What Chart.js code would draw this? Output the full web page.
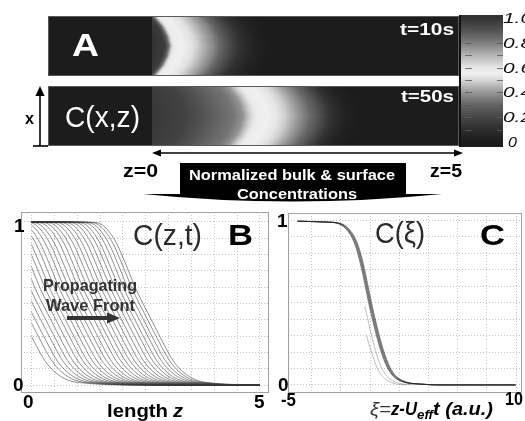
<!DOCTYPE html>
<html>
<head>
<meta charset="utf-8">
<script src="https://cdn.jsdelivr.net/npm/chart.js@4.4.0/dist/chart.umd.min.js"></script>
<style>
  html, body { margin: 0; padding: 0; background: #fff; }
  #wrap { position: relative; width: 525px; height: 421px; overflow: hidden; }
  #wrap canvas { position: absolute; left: 0; top: 0; }
</style>
</head>
<body>
<div id="wrap">
  <canvas id="chartA" width="525" height="421"></canvas>
  <canvas id="chartB" width="525" height="421"></canvas>
  <canvas id="chartC" width="525" height="421"></canvas>
</div>
<script>
// ---- panel A: concentration along z on the channel centre line ----
const stripZ10 = [0, 0.21, 0.27, 0.32, 0.36, 0.55, 0.66, 0.78, 0.99, 1.22, 1.43, 1.67, 1.9, 5];
const stripC10 = [1.0, 0.97, 0.85, 0.65, 0.57, 0.54, 0.52, 0.47, 0.38, 0.24, 0.12, 0.04, 0, 0];
const stripZ50 = [0, 0.54, 0.94, 1.31, 1.48, 1.59, 1.70, 1.87, 2.03, 2.16, 2.40, 2.68, 2.89, 3.13, 3.38, 5];
const stripC50 = [0.98, 0.95, 0.88, 0.82, 0.76, 0.65, 0.57, 0.55, 0.53, 0.49, 0.39, 0.26, 0.13, 0.04, 0, 0];
// how far the front lags behind the centre, across the channel height
const bulgeX = [0, 0.17, 0.33, 0.5, 0.67, 0.83, 1];
const bulgeLag = [0.26, 0.12, 0.04, 0, 0.04, 0.12, 0.26];
// colour bar (grey map)
const cbarValues = [0, 0.1, 0.2, 0.3, 0.4, 0.5, 0.55, 0.6, 0.7, 0.8, 0.9, 1.0];
const cbarGrey = [28, 45, 70, 100, 150, 215, 240, 230, 180, 125, 82, 50];
const cbarTickValues = [1.0, 0.8, 0.6, 0.4, 0.2, 0];
const cbarTickLabels = ['1.0', '0.8', '0.6', '0.4', '0.2', '0'];

// ---- panel B: C(z,t), one profile shape moving along z ----
const bOffset = [-3.0, -1.45, -1.0, -0.8, -0.58, -0.36, -0.14, 0, 0.22, 0.44, 0.66, 0.88, 1.17, 1.61, 2.1, 2.6, 5.5];
const bProfile = [1.0, 1.0, 0.995, 0.96, 0.87, 0.73, 0.58, 0.50, 0.38, 0.26, 0.15, 0.08, 0.03, 0.01, 0.002, 0, 0];
const bFronts = [-0.37, -0.22, -0.10, 0.02, 0.13, 0.24, 0.35, 0.46, 0.56, 0.67, 0.77, 0.88, 0.98, 1.08,
                 1.19, 1.29, 1.39, 1.49, 1.59, 1.69, 1.79, 1.89, 1.99, 2.08, 2.18, 2.27, 2.36, 2.44];
const bTicksX = [0, 0.5, 1, 1.5, 2, 2.5, 3, 3.5, 4, 4.5, 5];
const bTickLabelsX = ['', '0.5', '1', '1.5', '2', '2.5', '3', '3.5', '4', '4.5', ''];
const yTicks = [0, 0.1, 0.2, 0.3, 0.4, 0.5, 0.6, 0.7, 0.8, 0.9, 1];
const yTickLabels = ['', '0.1', '0.2', '0.3', '0.4', '0.5', '0.6', '0.7', '0.8', '0.9', ''];

// ---- panel C: C(xi), curves collapsed on one shape ----
const cXi = [-4.95, -3, -2.07, -1.38, -0.92, -0.57, -0.23, 0, 0.34, 0.69, 1.15, 1.61, 2.3, 3.45, 5, 10];
const cMain = [0.995, 0.99, 0.98, 0.93, 0.85, 0.74, 0.60, 0.50, 0.37, 0.25, 0.13, 0.06, 0.02, 0.005, 0, 0];
const cSpread = [-0.1, -0.05, 0, 0.05, 0.1];
const cEarly1Xi = [-0.36, 0, 0.4, 0.8, 1.3, 2, 3];
const cEarly1 = [0.48, 0.34, 0.2, 0.1, 0.04, 0.01, 0];
const cEarly2Xi = [-0.25, 0.1, 0.5, 1, 1.6, 2.5];
const cEarly2 = [0.30, 0.2, 0.1, 0.04, 0.01, 0];
const cTicksX = [-4, -2, 0, 2, 4, 6, 8, 10];
const cTickLabelsX = ['-4', '-2', '0', '2', '4', '6', '8', ''];

const FONT = '"Liberation Sans", Arial, sans-serif';
Chart.defaults.font.family = FONT;

function interp(xs, ys, x) {
  if (x <= xs[0]) return ys[0];
  for (let i = 1; i < xs.length; i++) {
    if (x <= xs[i]) {
      const t = (x - xs[i - 1]) / (xs[i] - xs[i - 1]);
      return ys[i - 1] + t * (ys[i] - ys[i - 1]);
    }
  }
  return ys[ys.length - 1];
}

// text squeezed/stretched to the width it has in the picture
function txt(ctx, s, x, y, font, color, w) {
  ctx.save();
  ctx.font = font;
  ctx.fillStyle = color;
  ctx.textBaseline = 'alphabetic';
  ctx.textAlign = 'left';
  const m = ctx.measureText(s).width;
  ctx.translate(x, y);
  if (w) ctx.scale(w / m, 1);
  ctx.fillText(s, 0, 0);
  ctx.restore();
}

function flatScale(s) {
  if (s.isHorizontal()) s.height = 0; else s.width = 0;
  s.paddingLeft = s.paddingRight = s.paddingTop = s.paddingBottom = 0;
}

function drawStrip(ctx, xs, ys, zArr, cArr, v0, v1) {
  const left = Math.round(xs.left), right = Math.round(xs.right);
  const top = Math.round(ys.getPixelForValue(v1)), bot = Math.round(ys.getPixelForValue(v0));
  const w = right - left, h = bot - top;
  const off = document.createElement('canvas');
  off.width = w; off.height = h;
  const octx = off.getContext('2d');
  const img = octx.createImageData(w, h);
  for (let r = 0; r < h; r++) {
    const lag = interp(bulgeX, bulgeLag, (r + 0.5) / h);
    for (let c = 0; c < w; c++) {
      const z = xs.getValueForPixel(left + c + 0.5) + lag;
      const g = interp(cbarValues, cbarGrey, interp(zArr, cArr, z));
      const k = (r * w + c) * 4;
      img.data[k] = img.data[k + 1] = img.data[k + 2] = g;
      img.data[k + 3] = 255;
    }
  }
  octx.putImageData(img, 0, 0);
  ctx.drawImage(off, left, top);
}

function arrowLine(ctx, x1, y1, x2, y2, lw, color) {
  ctx.save();
  ctx.strokeStyle = color; ctx.lineWidth = lw;
  ctx.beginPath(); ctx.moveTo(x1, y1); ctx.lineTo(x2, y2); ctx.stroke();
  ctx.restore();
}
function tri(ctx, pts, color) {
  ctx.save(); ctx.fillStyle = color; ctx.beginPath();
  ctx.moveTo(pts[0], pts[1]); ctx.lineTo(pts[2], pts[3]); ctx.lineTo(pts[4], pts[5]);
  ctx.closePath(); ctx.fill(); ctx.restore();
}

// ---------- panel A ----------
const panelA = {
  id: 'panelA',
  afterDraw(chart) {
    const ctx = chart.ctx, xs = chart.scales.x, ys = chart.scales.y, cb = chart.scales.cb;
    // label boxes
    ctx.fillStyle = '#1c1c1c';
    ctx.fillRect(48, 16, 104, 60);
    ctx.fillRect(48, 86, 104, 60);
    drawStrip(ctx, xs, ys, stripZ10, stripC10, 7, 13);
    drawStrip(ctx, xs, ys, stripZ50, stripC50, 0, 6);
    ctx.strokeStyle = '#5a5a5a'; ctx.lineWidth = 1;
    ctx.strokeRect(48.5, 16.5, 410, 59);
    ctx.strokeRect(48.5, 86.5, 410, 59);

    // colour bar
    for (let y = 15; y < 147; y++) {
      let v = cb.getValueForPixel(y + 0.5);
      v = Math.max(0, Math.min(1, v));
      const g = Math.round(interp(cbarValues, cbarGrey, v));
      ctx.fillStyle = `rgb(${g},${g},${g})`;
      ctx.fillRect(461, y, 42, 1);
    }
    ctx.fillStyle = '#111';
    ctx.fillRect(459, 15, 2, 132);
    ctx.strokeStyle = 'rgba(90,90,90,0.8)'; ctx.lineWidth = 1;
    for (let k = 1; k < 10; k++) {
      const py = Math.round(cb.getPixelForValue(k / 10)) + 0.5;
      ctx.beginPath();
      ctx.moveTo(465, py); ctx.lineTo(472, py);
      ctx.moveTo(497, py); ctx.lineTo(503, py);
      ctx.stroke();
    }
    cbarTickValues.forEach((v, i) => {
      const py = cb.getPixelForValue(v) + 5;
      const s = cbarTickLabels[i];
      txt(ctx, s, s.length > 1 ? 503 : 508, py, 'italic 14px ' + FONT, '#111', s.length > 1 ? 29 : 9);
    });

    // texts in the strips
    txt(ctx, 'A', 72, 56, 'bold 32px ' + FONT, '#fff', 27);
    txt(ctx, 'C(x,z)', 65, 127, '30px ' + FONT, '#fff', 75);
    txt(ctx, 't=10s', 400, 35, 'bold 16px ' + FONT, '#fff', 54);
    txt(ctx, 't=50s', 401, 102, 'bold 16px ' + FONT, '#fff', 53);

    // transverse axis x
    arrowLine(ctx, 40, 146, 40, 93, 1.6, '#000');
    tri(ctx, [35.5, 96, 40, 86, 44.5, 96], '#000');
    arrowLine(ctx, 33, 146, 48, 146, 1.6, '#000');
    txt(ctx, 'x', 25, 124, 'bold 17px ' + FONT, '#000', 9);

    // z = 0 ... 5 double arrow
    const z0 = xs.getPixelForValue(0), z5 = xs.getPixelForValue(5);
    arrowLine(ctx, z0 + 6, 153, z5 - 4, 153, 1.6, '#000');
    tri(ctx, [z0, 153, z0 + 9, 149.5, z0 + 9, 156.5], '#000');
    tri(ctx, [z5 + 3, 153, z5 - 6, 149.5, z5 - 6, 156.5], '#000');
    txt(ctx, 'z=0', 123, 177, 'bold 18px ' + FONT, '#000', 35);
    txt(ctx, 'z=5', 430, 177, 'bold 18px ' + FONT, '#000', 32);

    // banner arrow
    ctx.fillStyle = '#000';
    ctx.fillRect(180, 163, 226, 32);
    ctx.beginPath();
    ctx.moveTo(143, 194);
    ctx.lineTo(442, 194);
    ctx.quadraticCurveTo(292, 209, 143, 194);
    ctx.closePath();
    ctx.fill();
    txt(ctx, 'Normalized bulk & surface', 189, 180, 'bold 15px ' + FONT, '#fff', 206);
    txt(ctx, 'Concentrations', 237, 198.5, 'bold 15px ' + FONT, '#fff', 120);
  }
};

new Chart(document.getElementById('chartA'), {
  type: 'scatter',
  data: { datasets: [] },
  options: {
    responsive: false, animation: false, devicePixelRatio: 1,
    layout: { padding: { left: 152, top: 16, right: 525 - 460, bottom: 421 - 146 } },
    plugins: { legend: { display: false }, tooltip: { enabled: false } },
    scales: {
      x: { type: 'linear', min: 0, max: 5, display: false, afterFit: flatScale },
      y: { type: 'linear', min: 0, max: 13, display: false, afterFit: flatScale },
      cb: { type: 'linear', position: 'right', min: -0.032, max: 1.016, display: false, afterFit: flatScale }
    }
  },
  plugins: [panelA]
});

// ---------- shared pieces for B and C ----------
function axisOpts(min, max, ticks, labels, horizontal) {
  return {
    type: 'linear', min: min, max: max,
    afterFit: flatScale,
    afterBuildTicks: s => { s.ticks = ticks.map(v => ({ value: v })); },
    grid: { color: '#c4c4c4', lineWidth: 1, drawTicks: false },
    border: { display: false, dash: [1, 2] },
    ticks: {
      autoSkip: false, maxRotation: 0, padding: horizontal ? 3 : 4,
      font: { size: 5 }, color: '#8c8c8c',
      callback: (v, i) => labels[i]
    }
  };
}

function clipPlugin(lo, hi) {
  return {
    id: 'clipZ',
    beforeDatasetsDraw(chart) {
      const a = chart.chartArea, xs = chart.scales.x, ctx = chart.ctx;
      const x0 = xs.getPixelForValue(lo), x1 = xs.getPixelForValue(hi);
      ctx.save();
      ctx.beginPath();
      ctx.rect(x0, a.top - 4, x1 - x0, a.bottom - a.top + 8);
      ctx.clip();
    },
    afterDatasetsDraw(chart) { chart.ctx.restore(); }
  };
}

function lineSet(data, color, width) {
  return {
    data: data, borderColor: color, borderWidth: width, pointRadius: 0,
    cubicInterpolationMode: 'monotone', fill: false, clip: false
  };
}

// ---------- panel B ----------
const bDatasets = bFronts.map(c =>
  lineSet(bOffset.map((d, i) => ({ x: c + d, y: bProfile[i] })), 'rgba(55,55,55,0.62)', 0.9));

const panelB = {
  id: 'panelB',
  afterDraw(chart) {
    const ctx = chart.ctx, a = chart.chartArea;
    ctx.strokeStyle = '#a0a0a0'; ctx.lineWidth = 1;
    ctx.strokeRect(a.left + 0.5, a.top + 0.5, a.right - a.left - 1, a.bottom - a.top - 1);
    const big = 'bold 19px ' + FONT;
    txt(ctx, '1', 14, 232, big, '#000');
    txt(ctx, '0', 13, 391, big, '#000');
    txt(ctx, '0', 23, 408, big, '#000');
    txt(ctx, '5', 254, 408, big, '#000');
    txt(ctx, 'length', 107, 417, 'bold 19px ' + FONT, '#000', 61);
    txt(ctx, 'z', 173, 417, 'italic bold 19px ' + FONT, '#000', 10);
    txt(ctx, 'C(z,t)', 133, 245, '29px ' + FONT, '#2a2a2a', 69);
    txt(ctx, 'B', 228, 245, 'bold 30px ' + FONT, '#000', 25);
    txt(ctx, 'Propagating', 43, 291, 'bold 17px ' + FONT, '#333', 94);
    txt(ctx, 'Wave Front', 46, 311, 'bold 17px ' + FONT, '#333', 89);
    arrowLine(ctx, 67, 318, 110, 318, 4, '#333');
    tri(ctx, [107, 312.5, 120, 318, 107, 323.5], '#333');
  }
};

new Chart(document.getElementById('chartB'), {
  type: 'line',
  data: { datasets: bDatasets },
  options: {
    responsive: false, animation: false, devicePixelRatio: 1,
    layout: { padding: { left: 21, top: 212, right: 525 - 269, bottom: 421 - 393 } },
    plugins: { legend: { display: false }, tooltip: { enabled: false } },
    scales: {
      x: axisOpts(-0.23, 5.2, bTicksX, bTickLabelsX, true),
      y: axisOpts(-0.049, 1.061, yTicks, yTickLabels, false)
    }
  },
  plugins: [clipPlugin(0, 5), panelB]
});

// ---------- panel C ----------
const cDatasets = [
  lineSet(cEarly1Xi.map((x, i) => ({ x: x, y: cEarly1[i] })), 'rgba(120,120,120,0.6)', 0.8),
  lineSet(cEarly2Xi.map((x, i) => ({ x: x, y: cEarly2[i] })), 'rgba(120,120,120,0.6)', 0.8)
].concat(cSpread.map(s =>
  lineSet(cXi.map((x, i) => ({ x: x + s, y: cMain[i] })), 'rgba(35,35,35,0.6)', 0.9)));

const panelC = {
  id: 'panelC',
  afterDraw(chart) {
    const ctx = chart.ctx, a = chart.chartArea;
    ctx.strokeStyle = '#a0a0a0'; ctx.lineWidth = 1;
    ctx.strokeRect(a.left + 0.5, a.top + 0.5, a.right - a.left - 1, a.bottom - a.top - 1);
    const big = 'bold 19px ' + FONT;
    txt(ctx, '1', 277, 227, big, '#000');
    txt(ctx, '0', 278, 391, big, '#000');
    txt(ctx, '-5', 281, 406, big, '#000', 15);
    txt(ctx, '10', 505, 405, big, '#000', 18);
    txt(ctx, 'C(\u03BE)', 375, 243, '29px ' + FONT, '#2a2a2a', 50);
    txt(ctx, 'C', 480, 245, 'bold 30px ' + FONT, '#000', 25);
    txt(ctx, '\u03BE=', 370, 415, 'italic 19px ' + FONT, '#333', 21);
    txt(ctx, 'z-U', 391, 415, 'italic bold 19px ' + FONT, '#000', 26);
    txt(ctx, 'eff', 417, 419, 'italic bold 12px ' + FONT, '#000', 16);
    txt(ctx, 't (a.u.)', 433, 415, 'italic bold 19px ' + FONT, '#000', 60);
  }
};

new Chart(document.getElementById('chartC'), {
  type: 'line',
  data: { datasets: cDatasets },
  options: {
    responsive: false, animation: false, devicePixelRatio: 1,
    layout: { padding: { left: 288, top: 213, right: 525 - 522, bottom: 421 - 393 } },
    plugins: { legend: { display: false }, tooltip: { enabled: false } },
    scales: {
      x: axisOpts(-5.62, 10.41, cTicksX, cTickLabelsX, true),
      y: axisOpts(-0.049, 1.045, yTicks, yTickLabels, false)
    }
  },
  plugins: [clipPlugin(-5, 10), panelC]
});
</script>
</body>
</html>
